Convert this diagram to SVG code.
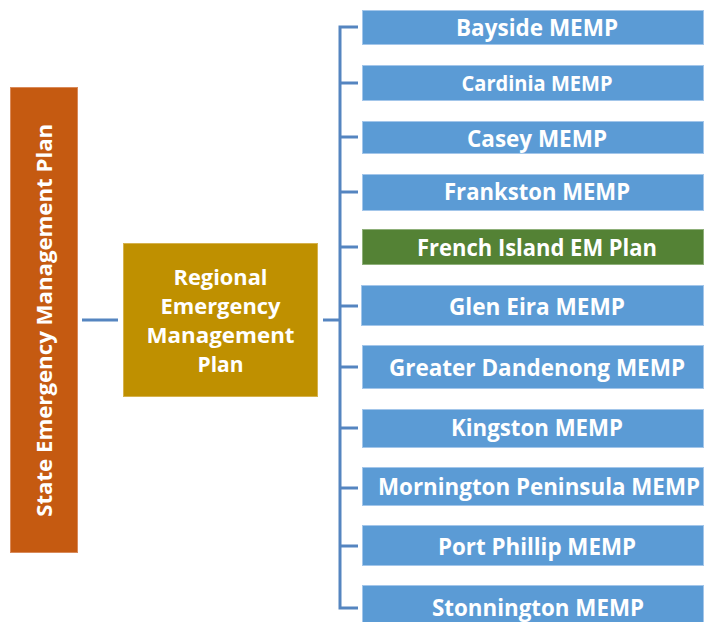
<svg xmlns="http://www.w3.org/2000/svg" width="706" height="622" viewBox="0 0 706 622">
  <style>
    .box { stroke-width: 1; }
    .state { fill: #C55A11; stroke: #D98A5A; }
    .region { fill: #BF9000; stroke: #D6B24D; }
    .memp { fill: #5B9BD5; stroke: #A3C6EA; }
    .island { fill: #548235; stroke: #8FB07A; }
    .lbl { font-family: "Open Sans", "Liberation Sans", sans-serif; font-weight: bold; fill: #FFFFFF; text-anchor: middle; }
    .lbl-side { font-size: 22.5px; }
    .lbl-mid { font-size: 21px; }
    .wire { fill: none; stroke: #5585C0; stroke-width: 3; stroke-linecap: butt; stroke-linejoin: miter; }
  </style>

  <rect width="706" height="622" fill="#FFFFFF"/>

  <!-- connectors -->
  <g id="connectors">
    <path class="wire" d="M82 320 H118"/>
    <path class="wire" d="M323 320 H340"/>
    <path class="wire" d="M358 27 H340 V608 H358"/>
    <path class="wire" d="M340 83 H358"/>
    <path class="wire" d="M340 137 H358"/>
    <path class="wire" d="M340 192 H358"/>
    <path class="wire" d="M340 247 H358"/>
    <path class="wire" d="M340 306 H358"/>
    <path class="wire" d="M340 367 H358"/>
    <path class="wire" d="M340 428 H358"/>
    <path class="wire" d="M340 488 H358"/>
    <path class="wire" d="M340 546 H358"/>
  </g>

  <!-- state level -->
  <g id="state-plan">
    <rect class="box state" x="10.5" y="87.5" width="67" height="465"/>
    <text class="lbl" font-size="21.5" transform="translate(51.5 320.3) rotate(-90)" textLength="393" lengthAdjust="spacingAndGlyphs">State Emergency Management Plan</text>
  </g>

  <!-- regional level -->
  <g id="regional-plan">
    <rect class="box region" x="123.5" y="243.5" width="194" height="153"/>
    <text class="lbl lbl-mid" x="220.5" y="285" textLength="94" lengthAdjust="spacingAndGlyphs">Regional</text>
    <text class="lbl lbl-mid" x="220.5" y="313.5" textLength="120" lengthAdjust="spacingAndGlyphs">Emergency</text>
    <text class="lbl lbl-mid" x="220.5" y="343" textLength="148" lengthAdjust="spacingAndGlyphs">Management</text>
    <text class="lbl lbl-mid" x="220.5" y="372" textLength="46" lengthAdjust="spacingAndGlyphs">Plan</text>
  </g>

  <!-- municipal plans -->
  <g id="bayside">
    <rect class="box memp" x="362.5" y="10.5" width="341" height="34"/>
    <text class="lbl lbl-side" x="537" y="35.5" textLength="162" lengthAdjust="spacingAndGlyphs">Bayside MEMP</text>
  </g>
  <g id="cardinia">
    <rect class="box memp" x="362.5" y="65.5" width="341" height="35"/>
    <text class="lbl" font-size="21" x="537" y="90.5" textLength="151" lengthAdjust="spacingAndGlyphs">Cardinia MEMP</text>
  </g>
  <g id="casey">
    <rect class="box memp" x="362.5" y="121.5" width="341" height="32"/>
    <text class="lbl lbl-side" x="537" y="146.5" textLength="140" lengthAdjust="spacingAndGlyphs">Casey MEMP</text>
  </g>
  <g id="frankston">
    <rect class="box memp" x="362.5" y="174.5" width="341" height="36"/>
    <text class="lbl lbl-side" x="537" y="200" textLength="186" lengthAdjust="spacingAndGlyphs">Frankston MEMP</text>
  </g>
  <g id="french-island">
    <rect class="box island" x="362.5" y="229.5" width="341" height="35"/>
    <text class="lbl lbl-side" x="537" y="255.5" textLength="240" lengthAdjust="spacingAndGlyphs">French Island EM Plan</text>
  </g>
  <g id="glen-eira">
    <rect class="box memp" x="361.5" y="285.5" width="342" height="40"/>
    <text class="lbl lbl-side" x="537" y="315" textLength="176" lengthAdjust="spacingAndGlyphs">Glen Eira MEMP</text>
  </g>
  <g id="greater-dandenong">
    <rect class="box memp" x="362.5" y="345.5" width="341" height="43"/>
    <text class="lbl lbl-side" x="537" y="375.5" textLength="296" lengthAdjust="spacingAndGlyphs">Greater Dandenong MEMP</text>
  </g>
  <g id="kingston">
    <rect class="box memp" x="362.5" y="409.5" width="341" height="38"/>
    <text class="lbl lbl-side" x="537" y="436" textLength="172" lengthAdjust="spacingAndGlyphs">Kingston MEMP</text>
  </g>
  <g id="mornington-peninsula">
    <rect class="box memp" x="362.5" y="467.5" width="341" height="38"/>
    <text class="lbl lbl-side" x="539" y="494.5" textLength="322" lengthAdjust="spacingAndGlyphs">Mornington Peninsula MEMP</text>
  </g>
  <g id="port-phillip">
    <rect class="box memp" x="362.5" y="525.5" width="341" height="40"/>
    <text class="lbl lbl-side" x="537" y="554.5" textLength="198" lengthAdjust="spacingAndGlyphs">Port Phillip MEMP</text>
  </g>
  <g id="stonnington">
    <rect class="box memp" x="362.5" y="585.5" width="341" height="45"/>
    <text class="lbl lbl-side" x="538" y="616" textLength="212" lengthAdjust="spacingAndGlyphs">Stonnington MEMP</text>
  </g>
</svg>
